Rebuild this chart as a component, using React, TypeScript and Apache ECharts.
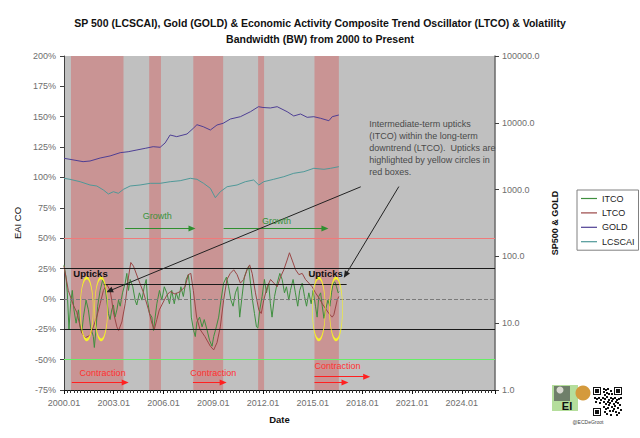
import React, { useEffect, useRef } from "react";
import * as echarts from "echarts";

const FONT = '"Liberation Sans", Arial, Helvetica, sans-serif';

const TITLE =
  "SP 500 (LCSCAI), Gold (GOLD) & Economic Activity Composite Trend Oscillator (LTCO) & Volatility\nBandwidth (BW) from 2000 to Present";

const SERIES_NAMES = ["ITCO", "LTCO", "GOLD", "LCSCAI"];

// Intermediate-term composite oscillator (ITCO), % (left axis)
const itcoDates = [
  2000.0, 2000.12, 2000.2, 2000.3, 2000.4, 2000.5, 2000.6, 2000.73, 2000.87, 2000.97,
  2001.07, 2001.17, 2001.33, 2001.47, 2001.6, 2001.77, 2001.83, 2001.93, 2002.03, 2002.18,
  2002.34, 2002.48, 2002.58, 2002.68, 2002.78, 2002.88, 2002.98, 2003.08, 2003.19, 2003.29,
  2003.39, 2003.53, 2003.69, 2003.79, 2003.89, 2003.99, 2004.15, 2004.29, 2004.39, 2004.55,
  2004.7, 2004.84, 2004.96, 2005.04, 2005.16, 2005.3, 2005.4, 2005.5, 2005.6, 2005.76,
  2005.9, 2006.05, 2006.2, 2006.36, 2006.5, 2006.65, 2006.77, 2006.91, 2007.05, 2007.2,
  2007.37, 2007.5, 2007.62, 2007.68, 2007.82, 2007.92, 2008.02, 2008.18, 2008.33, 2008.46,
  2008.62, 2008.78, 2008.93, 2009.03, 2009.19, 2009.33, 2009.47, 2009.63, 2009.8, 2009.93,
  2010.07, 2010.2, 2010.34, 2010.48, 2010.6, 2010.74, 2010.88, 2011.04, 2011.14, 2011.25,
  2011.37, 2011.49, 2011.61, 2011.69, 2011.81, 2011.95, 2012.09, 2012.21, 2012.35, 2012.45,
  2012.55, 2012.7, 2012.86, 2013.02, 2013.16, 2013.3, 2013.42, 2013.56, 2013.66, 2013.82,
  2013.96, 2014.1, 2014.22, 2014.37, 2014.51, 2014.63, 2014.77, 2014.91, 2015.03, 2015.17,
  2015.27, 2015.37, 2015.48, 2015.58, 2015.68, 2015.78, 2015.92, 2016.04, 2016.14, 2016.24,
  2016.34, 2016.44, 2016.54, 2016.6,
];
const itcoValues = [
  28, 18, 5, -25, -4, 7, -9, -20, -9, -23,
  -28, -15, -1, -9, -23, -31, -40, -25, -6, 7,
  16, 10, -1, -12, -17, -9, -5, -15, -9, -1,
  -6, 5, 13, 21, 7, 16, 10, -1, -5, 5,
  -1, 10, 16, -1, -12, -15, -26, -15, -4, 7,
  -1, 10, 5, -4, 7, -4, 5, -1, 10, 2,
  16, 20, 5, -15, -26, -31, -19, -15, -23, -17,
  -25, -34, -39, -31, -23, -15, -1, 13, 18, 10,
  -1, -6, 5, 10, -15, 2, 18, 24, 27, 13,
  -1, -12, -23, -24, -9, 2, 16, 5, 13, -4,
  -15, 2, 13, 21, 16, 5, 10, -1, 7, 16,
  5, -6, 7, 13, 2, -6, 5, -4, 7, -6,
  -15, 2, 5, -6, -16, -9, -1, -6, 5, 13,
  14, 10, 5, 6,
];

// Long-term composite oscillator (LTCO), % (left axis)
const ltcoDates = [
  2000.0, 2000.26, 2000.56, 2000.77, 2001.07, 2001.27, 2001.57, 2001.77, 2001.97, 2002.18,
  2002.38, 2002.58, 2002.78, 2002.88, 2002.98, 2003.19, 2003.29, 2003.49, 2003.69, 2003.89,
  2004.03, 2004.19, 2004.49, 2004.8, 2005.1, 2005.3, 2005.45, 2005.6, 2005.75, 2005.9,
  2006.2, 2006.4, 2006.7, 2007.0, 2007.3, 2007.5, 2007.65, 2007.8, 2008.0, 2008.2,
  2008.5, 2008.83, 2009.03, 2009.23, 2009.43, 2009.63, 2009.83, 2010.03, 2010.24, 2010.44,
  2010.64, 2010.84, 2011.04, 2011.2, 2011.35, 2011.55, 2011.75, 2011.9, 2012.05, 2012.26,
  2012.46, 2012.66, 2012.86, 2013.06, 2013.26, 2013.46, 2013.6, 2013.76, 2013.97, 2014.17,
  2014.37, 2014.57, 2014.77, 2014.97, 2015.17, 2015.37, 2015.58, 2015.78, 2015.98, 2016.18,
  2016.28, 2016.48, 2016.58,
];
const ltcoValues = [
  27, 7, -5, -11, -28, -32, -30, -23, -15, -4,
  7, 12, 7, -1, -11, -23, -26, -19, -4, 18,
  30, 27, 16, 5, -9, -20, -25, -17, -9, -5,
  3, 6, 4, 6, 10, 20, 21, 7, -15, -25,
  -31, -39, -42, -36, -23, -1, 16, 21, 24, 20,
  13, 16, 24, 28, 21, 5, -9, -12, -1, 10,
  16, 13, 10, 18, 24, 32, 38, 32, 24, 20,
  21, 16, 13, 10, 5, 1, -4, -8, -12, -15,
  -13, -1, 2,
];

// GOLD (right, log axis)
const goldDates = [
  2000.0, 2000.36, 2001.15, 2001.57, 2002.18, 2002.78, 2003.39, 2003.87, 2004.4, 2004.9,
  2005.38, 2005.8, 2006.1, 2006.4, 2006.8, 2007.42, 2007.8, 2008.02, 2008.4, 2008.83,
  2009.23, 2009.6, 2010.04, 2010.64, 2011.25, 2011.73, 2012.0, 2012.45, 2012.86, 2013.46,
  2013.86, 2014.27, 2014.67, 2015.07, 2015.48, 2015.98, 2016.18, 2016.58,
];
const goldValues = [
  2940, 2840, 2620, 2680, 2970, 3190, 3570, 3690, 3920, 4150,
  4390, 4300, 4990, 6570, 6200, 6800, 8270, 9370, 8740, 7800,
  9270, 9830, 11400, 12340, 14660, 17420, 16950, 16670, 17420, 14660,
  12650, 13550, 12080, 12340, 11680, 10740, 12340, 13090,
];

// LCSCAI = S&P 500 (right, log axis)
const spxDates = [
  2000.0, 2000.36, 2000.97, 2001.57, 2001.98, 2002.38, 2002.68, 2002.98, 2003.28, 2003.59,
  2003.99, 2004.59, 2005.2, 2005.8, 2006.41, 2007.01, 2007.62, 2008.02, 2008.42, 2008.83,
  2009.13, 2009.43, 2009.84, 2010.44, 2010.94, 2011.44, 2011.75, 2012.05, 2012.65, 2013.26,
  2013.86, 2014.47, 2015.07, 2015.68, 2016.08, 2016.58,
];
const spxValues = [
  1476, 1426, 1313, 1172, 1132, 986, 859, 930, 880, 1010,
  1132, 1172, 1242, 1242, 1313, 1359, 1476, 1426, 1242, 1045,
  757, 930, 1105, 1172, 1313, 1393, 1172, 1313, 1426, 1560,
  1754, 1854, 2083, 2013, 2083, 2203,
];

// Contraction periods (shaded)
const contractionBands = [
  [2000.42, 2003.59],
  [2005.14, 2005.85],
  [2007.8, 2009.6],
  [2011.71, 2012.07],
  [2015.11, 2016.58],
];

// Reference levels on the oscillator axis
const levelValues = [50, 25, 0, -25, -50];
const levelColors = ["#f07a7a", "#1a1a1a", "#7a7a7a", "#1a1a1a", "#66ee66"];
const levelTypes = ["solid", "solid", "dashed", "solid", "solid"];
const partialLevel = { from: 2002.4, to: 2017.05, value: 12 };

// Annotations (data coordinates: year, % on left axis)
const ellipseCenters = [
  [2001.37, -8.2],
  [2002.24, -8.2],
  [2015.37, -8.2],
  [2016.41, -8.2],
];
const growthLabels = [
  { text: "Growth", at: [2005.62, 68.4] },
  { text: "Growth", at: [2012.82, 64.5] },
];
const growthArrows = [
  [[2003.69, 57.9], [2007.72, 57.9]],
  [[2009.63, 57.9], [2015.74, 57.9]],
];
const contractionLabels = [
  { text: "Contraction", at: [2002.33, -61.2] },
  { text: "Contraction", at: [2009.01, -61.2] },
  { text: "Contraction", at: [2016.5, -54.9] },
];
const contractionArrows = [
  [[2000.47, -68.9], [2003.69, -68.9]],
  [[2007.78, -68.9], [2009.6, -68.9]],
  [[2015.11, -64.0], [2018.26, -64.0]],
  [[2015.11, -68.9], [2016.95, -68.9]],
];
const upticksLabels = [
  { text: "Upticks", at: [2001.6, 20.6] },
  { text: "Upticks", at: [2015.78, 20.6] },
];
const pointerArrows = [
  [[2017.9, 92.3], [2002.74, 6.6]],
  [[2020.2, 92.5], [2016.99, 19.8]],
];
const noteText = [
  "Intermediate-term upticks",
  "(ITCO) within the long-term",
  "downtrend (LTCO).  Upticks are",
  "highlighted by yellow circles in",
  "red boxes.",
];
const noteAnchor = [2018.44, 148.3];

const BASE_YEAR = 2000;
const toXY = (dates: number[], values: number[]) =>
  dates.map((d, i) => [d - BASE_YEAR, values[i]]);
const pt = (p: number[]) => [p[0] - BASE_YEAR, p[1]];

function textPoint(text: string, at: number[], style: any) {
  return {
    coord: pt(at),
    symbol: "circle",
    symbolSize: 1,
    itemStyle: { color: "rgba(0,0,0,0)" },
    label: {
      show: true,
      position: "inside",
      formatter: text,
      fontFamily: FONT,
      ...style,
    },
  };
}

function arrowLine(a: number[], b: number[], color: string, width = 1) {
  return [
    { coord: pt(a), symbol: "none", lineStyle: { color, width, type: "solid" } },
    { coord: pt(b), symbol: "triangle", symbolSize: [6, 7], itemStyle: { color } },
  ];
}

function qrBlocks() {
  const els: any[] = [];
  const ox = 593;
  const oy = 387;
  els.push({ type: "rect", shape: { x: ox - 1, y: oy - 1, width: 31, height: 31 }, style: { fill: "#ffffff" } });
  const finder = (fx: number, fy: number) => {
    els.push({ type: "rect", shape: { x: fx, y: fy, width: 8, height: 8 }, style: { fill: "#111" } });
    els.push({ type: "rect", shape: { x: fx + 1, y: fy + 1, width: 6, height: 6 }, style: { fill: "#fff" } });
    els.push({ type: "rect", shape: { x: fx + 2, y: fy + 2, width: 4, height: 4 }, style: { fill: "#111" } });
  };
  finder(ox, oy);
  finder(ox + 21, oy);
  finder(ox, oy + 21);
  const bits = [
    [10, 1], [12, 2], [14, 1], [17, 3], [10, 4], [13, 5], [15, 6], [11, 7], [18, 6],
    [1, 10], [3, 11], [5, 10], [7, 12], [9, 10], [11, 11], [13, 9], [15, 12],
    [17, 10], [19, 11], [21, 10], [23, 12], [25, 11], [27, 10], [2, 14], [6, 15],
    [10, 14], [12, 16], [14, 14], [16, 15], [18, 13], [20, 16], [22, 14], [24, 15], [26, 17],
    [10, 19], [12, 21], [14, 20], [16, 23], [18, 19], [20, 21], [22, 24], [24, 20],
    [11, 24], [13, 26], [17, 27], [21, 18], [25, 25], [19, 23], [15, 17], [27, 22], [23, 27],
  ];
  bits.forEach(([bx, by]) => {
    els.push({ type: "rect", shape: { x: ox + bx, y: oy + by, width: 2, height: 2 }, style: { fill: "#111" } });
  });
  return els;
}

export default function App() {
  const ref = useRef<HTMLDivElement>(null);

  useEffect(() => {
    document.body.style.margin = "0";
    if (!ref.current) return;
    const chart = echarts.init(ref.current, undefined, { renderer: "svg" });

    const axisLabelStyle = { color: "#6e6e6e", fontSize: 9, fontFamily: FONT };

    const levelMarks: any[] = levelValues.map((v, i) => ({
      yAxis: v,
      lineStyle: { color: levelColors[i], width: 1, type: levelTypes[i] },
    }));
    levelMarks.push([
      { coord: [partialLevel.from - BASE_YEAR, partialLevel.value], lineStyle: { color: "#1a1a1a", width: 1, type: "solid" } },
      { coord: [partialLevel.to - BASE_YEAR, partialLevel.value] },
    ]);

    const option: any = {
      animation: false,
      backgroundColor: "#ffffff",
      title: {
        text: TITLE,
        left: "center",
        top: 10,
        textStyle: {
          fontFamily: FONT,
          fontSize: 10.5,
          fontWeight: "bold",
          color: "#111",
          lineHeight: 16,
        },
      },
      legend: {
        data: SERIES_NAMES,
        orient: "vertical",
        left: 577,
        top: 190,
        icon: "rect",
        borderColor: "#808080",
        borderWidth: 1,
        backgroundColor: "#ffffff",
        padding: [3, 4, 3, 4],
        itemGap: 3.4,
        itemWidth: 16,
        itemHeight: 1.2,
        textStyle: { fontFamily: FONT, fontSize: 9, color: "#222", lineHeight: 11 },
      },
      grid: {
        left: 64,
        right: 145,
        top: 56,
        bottom: 48,
        show: true,
        backgroundColor: "#c0c0c0",
        borderWidth: 0,
      },
      xAxis: {
        type: "value",
        min: 0,
        max: 26,
        interval: 3,
        name: "Date",
        nameLocation: "middle",
        nameGap: 24,
        nameTextStyle: { fontFamily: FONT, fontSize: 9.5, fontWeight: "bold", color: "#111" },
        axisLine: { onZero: false, lineStyle: { color: "#111", width: 1 } },
        axisTick: { show: true, length: 4, lineStyle: { color: "#111" } },
        minorTick: { show: true, splitNumber: 15, length: 3, lineStyle: { color: "#333" } },
        splitLine: { show: false },
        axisLabel: {
          ...axisLabelStyle,
          margin: 8,
          formatter: (v: number) => (v % 3 === 0 && v <= 24 ? `${BASE_YEAR + v}.01` : ""),
        },
      },
      yAxis: [
        {
          type: "value",
          position: "left",
          min: -75,
          max: 200,
          interval: 25,
          name: "EAI CO",
          nameLocation: "middle",
          nameGap: 28,
          nameTextStyle: { fontFamily: FONT, fontSize: 9.5, color: "#111" },
          axisLine: { show: true, lineStyle: { color: "#404040" } },
          axisTick: { show: true, length: 4, lineStyle: { color: "#404040" } },
          splitLine: { show: false },
          axisLabel: { ...axisLabelStyle, margin: 8, formatter: (v: number) => `${v}%` },
        },
        {
          type: "log",
          logBase: 10,
          position: "right",
          min: 1,
          max: 100000,
          name: "SP500 & GOLD",
          nameLocation: "middle",
          nameGap: 39,
          nameTextStyle: { fontFamily: FONT, fontSize: 9, fontWeight: "bold", color: "#111" },
          axisLine: { show: true, lineStyle: { color: "#6a6a6a", width: 1.5 } },
          axisTick: { show: true, length: 4, lineStyle: { color: "#404040" } },
          splitLine: { show: false },
          axisLabel: { ...axisLabelStyle, margin: 7, formatter: (v: number) => v.toFixed(1) },
        },
      ],
      series: [
        {
          name: "_bands",
          type: "line",
          data: [],
          z: 1,
          silent: true,
          markArea: {
            silent: true,
            itemStyle: { color: "#c99494" },
            data: contractionBands.map(([a, b]) => [{ xAxis: a - BASE_YEAR }, { xAxis: b - BASE_YEAR }]),
          },
        },
        {
          name: "_levels",
          type: "line",
          data: [],
          z: 2,
          silent: true,
          markLine: {
            silent: true,
            symbol: ["none", "none"],
            label: { show: false },
            data: levelMarks,
          },
        },
        {
          name: "ITCO",
          type: "line",
          data: toXY(itcoDates, itcoValues),
          yAxisIndex: 0,
          symbol: "none",
          z: 3,
          color: "#3f8f3f",
          lineStyle: { width: 1, color: "#3f8f3f" },
        },
        {
          name: "LTCO",
          type: "line",
          data: toXY(ltcoDates, ltcoValues),
          yAxisIndex: 0,
          symbol: "none",
          z: 3,
          color: "#9a4646",
          lineStyle: { width: 1, color: "#9a4646" },
        },
        {
          name: "GOLD",
          type: "line",
          data: toXY(goldDates, goldValues),
          yAxisIndex: 1,
          symbol: "none",
          z: 3,
          color: "#4e3f94",
          lineStyle: { width: 1, color: "#4e3f94" },
        },
        {
          name: "LCSCAI",
          type: "line",
          data: toXY(spxDates, spxValues),
          yAxisIndex: 1,
          symbol: "none",
          z: 3,
          color: "#4f9898",
          lineStyle: { width: 1, color: "#4f9898" },
        },
        {
          name: "_notes",
          type: "line",
          data: [],
          z: 5,
          silent: true,
          markLine: {
            silent: true,
            label: { show: false },
            data: [
              ...growthArrows.map(([a, b]) => arrowLine(a, b, "#2f8f2f")),
              ...contractionArrows.map(([a, b]) => arrowLine(a, b, "#ff2020")),
              ...pointerArrows.map(([a, b]) => arrowLine(a, b, "#222222")),
            ],
          },
          markPoint: {
            silent: true,
            data: [
              ...ellipseCenters.map((c) => ({
                coord: pt(c),
                symbol: "circle",
                symbolSize: [13, 62],
                itemStyle: { color: "rgba(0,0,0,0)", borderColor: "#f5f02a", borderWidth: 1.3 },
                label: { show: false },
              })),
              ...growthLabels.map((g) => textPoint(g.text, g.at, { color: "#3a923a", fontSize: 9 })),
              ...contractionLabels.map((g) => textPoint(g.text, g.at, { color: "#ff3030", fontSize: 9 })),
              ...upticksLabels.map((g) =>
                textPoint(g.text, g.at, { color: "#111", fontSize: 9.5, fontWeight: "bold" })
              ),
              {
                coord: pt(noteAnchor),
                symbol: "circle",
                symbolSize: 1,
                itemStyle: { color: "rgba(0,0,0,0)" },
                label: {
                  show: true,
                  position: [0, 0],
                  align: "left",
                  verticalAlign: "top",
                  formatter: noteText.join("\n"),
                  fontFamily: FONT,
                  fontSize: 9,
                  lineHeight: 12,
                  color: "#4a4a4a",
                },
              },
            ],
          },
        },
      ],
      graphic: [
        { type: "rect", shape: { x: 552, y: 385, width: 26, height: 26 }, style: { fill: "#b5de9c" } },
        { type: "rect", shape: { x: 554, y: 386, width: 16, height: 15 }, style: { fill: "#6f7f6a" } },
        { type: "circle", shape: { cx: 560, cy: 390, r: 3.5 }, style: { fill: "#d8d8d0" } },
        { type: "circle", shape: { cx: 583, cy: 393, r: 7.5 }, style: { fill: "#d49a3c" } },
        {
          type: "text",
          x: 567,
          y: 405.5,
          style: { text: "EI", font: `bold 11px ${FONT}`, fill: "#111", align: "center", verticalAlign: "middle" },
        },
        ...qrBlocks(),
        {
          type: "text",
          x: 588,
          y: 422,
          style: { text: "@ECDeGroot", font: `5px ${FONT}`, fill: "#444", align: "center", verticalAlign: "middle" },
        },
      ],
    };

    chart.setOption(option);
    return () => chart.dispose();
  }, []);

  return <div ref={ref} style={{ width: 640, height: 438 }} />;
}
